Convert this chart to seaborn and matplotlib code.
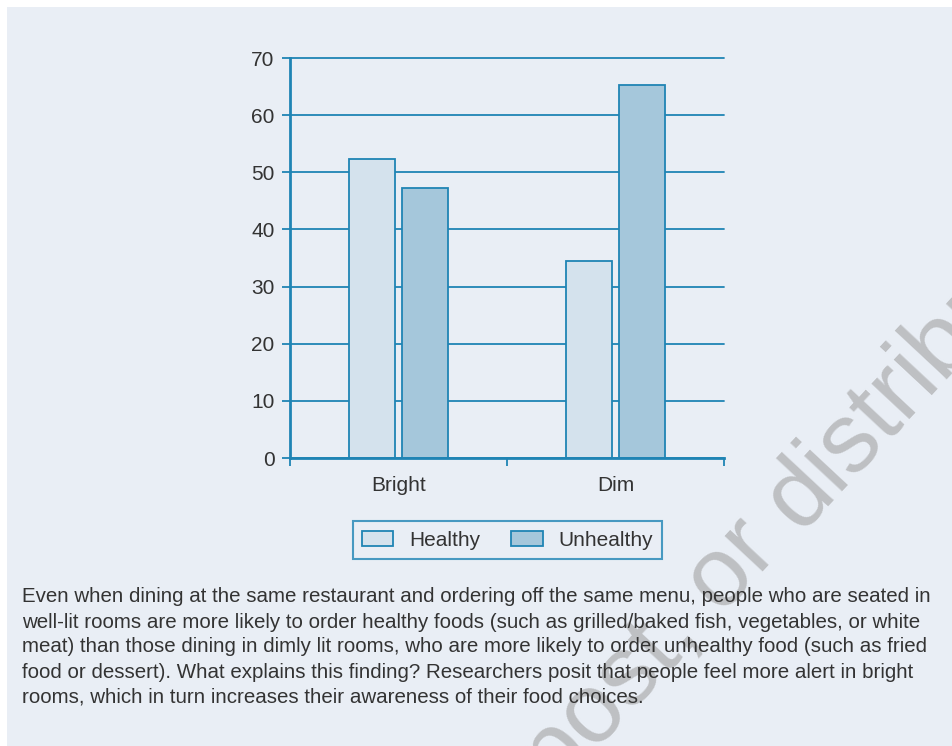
import matplotlib
matplotlib.use("Agg")
import matplotlib.pyplot as plt
from matplotlib.patches import Rectangle, Patch
from matplotlib.ticker import FixedLocator
import seaborn as sns
import pandas as pd

# ---- data ----
lighting = ["Bright", "Dim"]
food_types = ["Healthy", "Unhealthy"]
healthy_vals = [52.3, 34.5]
unhealthy_vals = [47.3, 65.2]
y_ticks = [0, 10, 20, 30, 40, 50, 60, 70]
caption_lines = [
    "Even when dining at the same restaurant and ordering off the same menu, people who are seated in",
    "well-lit rooms are more likely to order healthy foods (such as grilled/baked fish, vegetables, or white",
    "meat) than those dining in dimly lit rooms, who are more likely to order unhealthy food (such as fried",
    "food or dessert). What explains this finding? Researchers posit that people feel more alert in bright",
    "rooms, which in turn increases their awareness of their food choices.",
]
watermark_left = "Do not copy, post, or "
watermark_right = "distribute"

df = pd.DataFrame({
    "Lighting": lighting * 2,
    "Food": [food_types[0]] * 2 + [food_types[1]] * 2,
    "Percent": healthy_vals + unhealthy_vals,
})

# ---- style ----
BG = "#E9EEF5"
C_HEALTHY = "#D4E2ED"
C_UNHEALTHY = "#A5C7DB"
EDGE = "#1F84B4"
TXT = "#333333"
WM = "#BEC0C3"

sns.set_theme(style="white")
plt.rcParams["font.family"] = ["Liberation Sans", "DejaVu Sans"]

W, H = 952, 746
fig = plt.figure(figsize=(W / 100, H / 100), dpi=100, facecolor="white")

# panel background
fig.patches.append(Rectangle((7 / W, 0), 1 - 7 / W, 1 - 7 / H,
                             transform=fig.transFigure, facecolor=BG,
                             edgecolor="none", zorder=-10))

ax = fig.add_axes([290 / W, 1 - 458 / H, 434 / W, 400 / H])
ax.set_facecolor("none")

sns.barplot(data=df, x="Lighting", y="Percent", hue="Food",
            order=lighting, hue_order=food_types,
            palette=[C_HEALTHY, C_UNHEALTHY], width=0.485, gap=0.12,
            edgecolor=EDGE, linewidth=1.3, saturation=1, legend=False,
            errorbar=None, ax=ax)

ax.set_xlim(-0.5, 1.5)
ax.set_ylim(0, 70)
ax.set_yticks(y_ticks)
ax.set_xlabel("")
ax.set_ylabel("")
ax.set_axisbelow(True)
ax.yaxis.grid(True, color=EDGE, linewidth=1.3)
ax.xaxis.grid(False)
for gl in ax.get_ygridlines():
    gl.set_clip_on(False)

for s in ["top", "right"]:
    ax.spines[s].set_visible(False)
for s in ["left", "bottom"]:
    ax.spines[s].set_color(EDGE)
    ax.spines[s].set_linewidth(2)

ax.tick_params(axis="y", direction="out", length=6, width=1.3, color=EDGE,
               labelsize=15, labelcolor=TXT, pad=5, left=True)
ax.tick_params(axis="x", which="major", length=0, labelsize=15,
               labelcolor=TXT, pad=13)
ax.xaxis.set_minor_locator(FixedLocator([-0.5, 0.5, 1.5]))
ax.tick_params(axis="x", which="minor", direction="out", length=6,
               width=1.3, color=EDGE, bottom=True)

# legend
handles = [Patch(facecolor=C_HEALTHY, edgecolor=EDGE, linewidth=1.3),
           Patch(facecolor=C_UNHEALTHY, edgecolor=EDGE, linewidth=1.3)]
leg = fig.legend(handles, food_types, loc="center",
                 bbox_to_anchor=(507.5 / W, 1 - 540 / H), ncol=2,
                 fontsize=15, frameon=True, fancybox=False,
                 handlelength=1.5, handleheight=0.75, handletextpad=0.75,
                 columnspacing=1.5, borderpad=0.45)
leg.get_frame().set_edgecolor(EDGE)
leg.get_frame().set_facecolor(BG)
leg.get_frame().set_linewidth(1.5)
for t in leg.get_texts():
    t.set_color(TXT)

# watermark
wx, wy = 800 / W, 1 - 532 / H
fig.text(wx, wy, watermark_left, rotation=47, rotation_mode="anchor",
         ha="right", va="baseline", fontsize=71, color=WM, zorder=1)
fig.text(wx, wy, watermark_right, rotation=47, rotation_mode="anchor",
         ha="left", va="baseline", fontsize=71, color=WM, zorder=1)

# caption
for i, line in enumerate(caption_lines):
    fig.text(22 / W, 1 - (597 + 25 * i) / H, line, ha="left", va="center",
             fontsize=14.75, color=TXT, zorder=5)

fig.savefig("out.png", dpi=100, facecolor="white")
